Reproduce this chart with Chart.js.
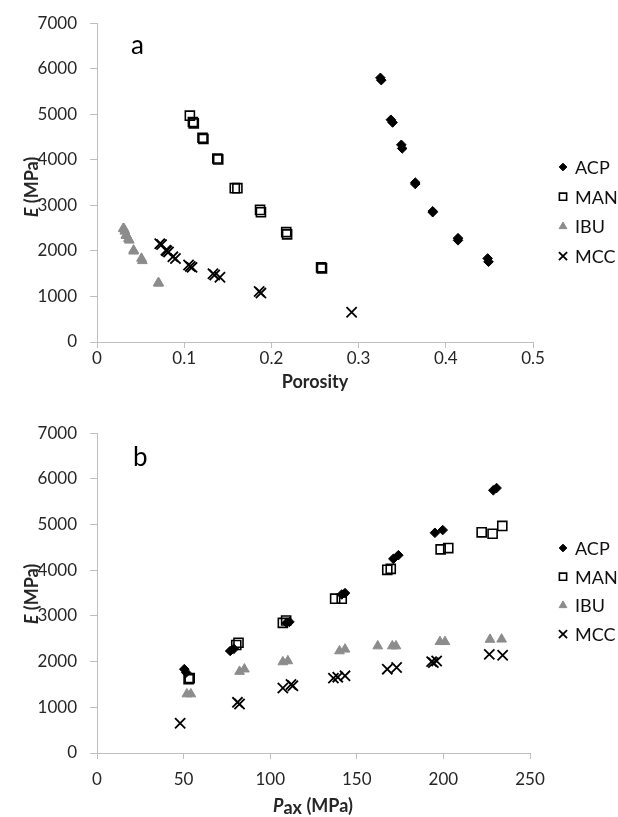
<!DOCTYPE html>
<html>
<head>
<meta charset="utf-8">
<title>E vs porosity and compaction pressure</title>
<script src="https://cdn.jsdelivr.net/npm/chart.js"></script>
<style>
  body { margin: 0; background: #fff; }
  canvas { display: block; }
</style>
</head>
<body>
<canvas id="chartA" width="618" height="410"></canvas>
<canvas id="chartB" width="618" height="407"></canvas>
<script>
// data: E (MPa) per sample, with porosity and Pax (MPa)
const materials = ['ACP', 'MAN', 'IBU', 'MCC'];

const acpE   = [5800, 5750, 4880, 4820, 4330, 4250, 3500, 3470, 2870, 2850, 2280, 2233, 1835, 1761];
const acpPor = [0.325, 0.326, 0.337, 0.339, 0.349, 0.350, 0.365, 0.365, 0.385, 0.385, 0.414, 0.414, 0.448, 0.449];
const acpPax = [230.7, 228.8, 199.6, 195.1, 174, 171.1, 143.2, 141.3, 111.1, 109.5, 79, 76.9, 50.4, 51.5];

const manE   = [4970, 4830, 4800, 4485, 4457, 4030, 4009, 3378, 3378, 2900, 2848, 2413, 2363, 1640, 1617];
const manPor = [0.1065, 0.110, 0.111, 0.121, 0.122, 0.138, 0.139, 0.158, 0.161, 0.187, 0.188, 0.217, 0.218, 0.257, 0.258];
const manPax = [234, 222.1, 228.4, 202.8, 198.4, 169.6, 167.6, 141.3, 137.5, 109.2, 107.3, 81.7, 80.4, 53.5, 52.9];

const ibuE   = [2490, 2485, 2435, 2435, 2341, 2341, 2341, 2270, 2233, 2015, 1993, 1835, 1783, 1291, 1291];
const ibuPor = [0.030, 0.031, 0.032, 0.032, 0.033, 0.034, 0.034, 0.036, 0.037, 0.042, 0.042, 0.051, 0.052, 0.070, 0.071];
const ibuPax = [233.6, 226.9, 200.9, 198, 172.6, 170.5, 162.1, 143.2, 140, 110.2, 107.3, 85.1, 82.3, 54.2, 51.9];

const mccE   = [2159, 2139, 2015, 2000, 1978, 1870, 1835, 1689, 1660, 1639, 1500, 1472, 1422, 1109, 1074, 652];
const mccPor = [0.072, 0.074, 0.079, 0.080, 0.082, 0.087, 0.090, 0.105, 0.107, 0.109, 0.133, 0.135, 0.141, 0.186, 0.188, 0.292];
const mccPax = [226.5, 234.2, 196.1, 193.2, 194.2, 173, 167.6, 143.2, 139, 136.5, 112, 113.1, 107.3, 81.1, 82.3, 48];

const eTicks = [0, 1000, 2000, 3000, 4000, 5000, 6000, 7000];
const porosityTicks = [0, 0.1, 0.2, 0.3, 0.4, 0.5];
const paxTicks = [0, 50, 100, 150, 200, 250];

const seriesE = { ACP: acpE, MAN: manE, IBU: ibuE, MCC: mccE };
const seriesPor = { ACP: acpPor, MAN: manPor, IBU: ibuPor, MCC: mccPor };
const seriesPax = { ACP: acpPax, MAN: manPax, IBU: ibuPax, MCC: mccPax };

// marker looks
const markers = {
  ACP: { pointStyle: 'rectRot', pointRadius: 4.8, backgroundColor: '#000', borderColor: '#000', borderWidth: 1 },
  MAN: { pointStyle: 'rect', pointRadius: 6.4, backgroundColor: 'rgba(0,0,0,0)', borderColor: '#000', borderWidth: 1.6 },
  IBU: { pointStyle: 'triangle', pointRadius: 5.6, backgroundColor: '#8c8c8c', borderColor: '#8c8c8c', borderWidth: 1 },
  MCC: { pointStyle: 'crossRot', pointRadius: 7.2, backgroundColor: '#000', borderColor: '#000', borderWidth: 1.8 }
};

const axisGrey = '#bfbfbf';
const textCol = '#262626';
Chart.defaults.font.family = 'Lato';

function pairs(xs, ys) {
  return xs.map((x, i) => ({ x: x, y: ys[i] }));
}

function drawParts(ctx, parts) {
  let w = 0;
  parts.forEach(p => { ctx.font = p.f; w += ctx.measureText(p.t).width; });
  let x = -w / 2;
  parts.forEach(p => {
    ctx.font = p.f;
    ctx.fillText(p.t, x, p.dy || 0);
    x += ctx.measureText(p.t).width;
  });
}

// axis titles with mixed styles, panel letter and the legend
const deco = {
  id: 'deco',
  afterDraw(chart, args, o) {
    const ctx = chart.ctx;
    ctx.save();
    ctx.fillStyle = '#000';
    ctx.textAlign = 'left';
    ctx.textBaseline = 'middle';
    ctx.font = '26px Lato';
    ctx.fillText(o.letter, o.letterX - 7, o.letterY);

    ctx.fillStyle = textCol;
    ctx.save();
    ctx.translate(o.xTitleX, o.xTitleY);
    drawParts(ctx, o.xTitle);
    ctx.restore();

    ctx.save();
    ctx.translate(o.yTitleX, o.yTitleY);
    ctx.rotate(-Math.PI / 2);
    drawParts(ctx, [
      { t: 'E', f: 'italic bold 18px Lato' },
      { t: ' (MPa)', f: 'bold 18px Lato' }
    ]);
    ctx.restore();

    chart.data.datasets.forEach((ds, i) => {
      const y = o.legendY + i * o.legendGap;
      ctx.fillStyle = ds.backgroundColor;
      ctx.strokeStyle = ds.borderColor;
      ctx.lineWidth = ds.borderWidth;
      Chart.helpers.drawPoint(ctx, {
        pointStyle: ds.pointStyle,
        radius: ds.pointRadius * 0.8,
        borderWidth: ds.borderWidth,
        rotation: 0
      }, o.legendX, y);
      ctx.fillStyle = '#111';
      ctx.font = '18px Lato';
      ctx.fillText(ds.label, o.legendX + 12, y + 1);
    });
    ctx.restore();
  }
};

function makeChart(id, xSeries, c) {
  return new Chart(document.getElementById(id), {
    type: 'scatter',
    data: {
      datasets: materials.map(m => Object.assign({
        label: m,
        data: pairs(xSeries[m], seriesE[m])
      }, markers[m]))
    },
    options: {
      responsive: false,
      animation: false,
      events: [],
      devicePixelRatio: 1,
      layout: { padding: { left: 0, top: c.top, right: c.right, bottom: 0 } },
      plugins: {
        legend: { display: false },
        tooltip: { enabled: false },
        deco: c.deco
      },
      scales: {
        x: {
          type: 'linear',
          min: c.ticks[0],
          max: c.ticks[c.ticks.length - 1],
          afterBuildTicks: s => { s.ticks = c.ticks.map(v => ({ value: v })); },
          afterFit: s => { s.height = c.xH; },
          ticks: {
            padding: c.xPad,
            color: textCol,
            font: { size: 17 },
            maxRotation: 0,
            callback: v => String(v)
          },
          grid: { drawOnChartArea: false, drawTicks: true, tickLength: 6, color: axisGrey },
          border: { color: axisGrey, width: 1 }
        },
        y: {
          type: 'linear',
          min: 0,
          max: 7000,
          afterBuildTicks: s => { s.ticks = eTicks.map(v => ({ value: v })); },
          afterFit: s => { s.width = 97; },
          ticks: {
            padding: 13,
            color: textCol,
            font: { size: 17 },
            callback: v => String(v)
          },
          grid: { drawOnChartArea: false, drawTicks: true, tickLength: 7, color: axisGrey },
          border: { color: axisGrey, width: 1 }
        }
      }
    },
    plugins: [deco]
  });
}

makeChart('chartA', seriesPor, {
  top: 20, right: 85, xH: 68, xPad: 0, ticks: porosityTicks,
  deco: {
    letter: 'a', letterX: 138, letterY: 46,
    xTitle: [{ t: 'Porosity', f: 'bold 18px Lato' }],
    xTitleX: 315, xTitleY: 382,
    yTitleX: 32, yTitleY: 187,
    legendX: 563, legendY: 167, legendGap: 29.7
  }
});

makeChart('chartB', seriesPax, {
  top: 21, right: 88, xH: 64, xPad: 10, ticks: paxTicks,
  deco: {
    letter: 'b', letterX: 140, letterY: 48,
    xTitle: [
      { t: 'P', f: 'italic bold 18px Lato' },
      { t: 'ax', f: 'bold 18px Lato', dy: 2 },
      { t: ' (MPa)', f: 'bold 18px Lato' }
    ],
    xTitleX: 313, xTitleY: 396,
    yTitleX: 32, yTitleY: 184,
    legendX: 563, legendY: 138, legendGap: 28.7
  }
});
</script>
</body>
</html>
